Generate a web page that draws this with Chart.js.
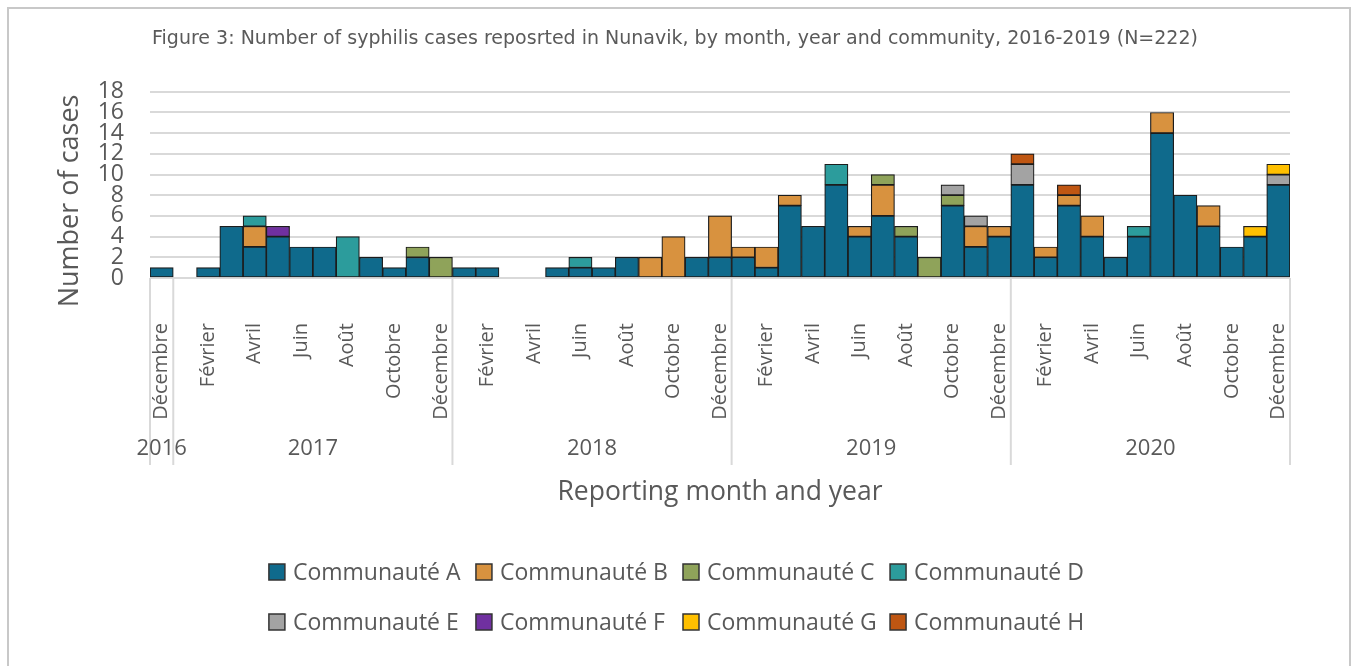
<!DOCTYPE html>
<html>
<head>
<meta charset="utf-8">
<script src="https://cdn.jsdelivr.net/npm/chart.js@4.4.0/dist/chart.umd.min.js"></script>
<style>
  html, body { margin: 0; padding: 0; background: #fff; }
  #frame { position: absolute; left: 7px; top: 7px; width: 1340px; height: 720px; border: 2px solid #c8c8c8; border-bottom: none; }
  #wrap { position: absolute; left: 0; top: 0; width: 1353px; height: 666px; }
</style>
</head>
<body>
<div id="frame"></div>
<div id="wrap"><canvas id="chart"></canvas></div>
<script>
// ===============================
// DATA (one entry per reporting month, Dec 2016 -> Dec 2020)
// ===============================
const monthNames = [
  "Décembre",
  "Janvier", "Février", "Mars", "Avril", "Mai", "Juin", "Juillet", "Août", "Septembre", "Octobre", "Novembre", "Décembre",
  "Janvier", "Février", "Mars", "Avril", "Mai", "Juin", "Juillet", "Août", "Septembre", "Octobre", "Novembre", "Décembre",
  "Janvier", "Février", "Mars", "Avril", "Mai", "Juin", "Juillet", "Août", "Septembre", "Octobre", "Novembre", "Décembre",
  "Janvier", "Février", "Mars", "Avril", "Mai", "Juin", "Juillet", "Août", "Septembre", "Octobre", "Novembre", "Décembre"
];
const monthYears = [
  2016,
  2017, 2017, 2017, 2017, 2017, 2017, 2017, 2017, 2017, 2017, 2017, 2017,
  2018, 2018, 2018, 2018, 2018, 2018, 2018, 2018, 2018, 2018, 2018, 2018,
  2019, 2019, 2019, 2019, 2019, 2019, 2019, 2019, 2019, 2019, 2019, 2019,
  2020, 2020, 2020, 2020, 2020, 2020, 2020, 2020, 2020, 2020, 2020, 2020
];

const casesA = [1, 0, 1, 5, 3, 4, 3, 3, 0, 2, 1, 2, 0, 1, 1, 0, 0, 1, 1, 1, 2, 0, 0, 2, 2, 2, 1, 7, 5, 9, 4, 6, 4, 0, 7, 3, 4, 9, 2, 7, 4, 2, 4, 14, 8, 5, 3, 4, 9];
const casesB = [0, 0, 0, 0, 2, 0, 0, 0, 0, 0, 0, 0, 0, 0, 0, 0, 0, 0, 0, 0, 0, 2, 4, 0, 4, 1, 2, 1, 0, 0, 1, 3, 0, 0, 0, 2, 1, 0, 1, 1, 2, 0, 0, 2, 0, 2, 0, 0, 0];
const casesC = [0, 0, 0, 0, 0, 0, 0, 0, 0, 0, 0, 1, 2, 0, 0, 0, 0, 0, 0, 0, 0, 0, 0, 0, 0, 0, 0, 0, 0, 0, 0, 1, 1, 2, 1, 0, 0, 0, 0, 0, 0, 0, 0, 0, 0, 0, 0, 0, 0];
const casesD = [0, 0, 0, 0, 1, 0, 0, 0, 4, 0, 0, 0, 0, 0, 0, 0, 0, 0, 1, 0, 0, 0, 0, 0, 0, 0, 0, 0, 0, 2, 0, 0, 0, 0, 0, 0, 0, 0, 0, 0, 0, 0, 1, 0, 0, 0, 0, 0, 0];
const casesE = [0, 0, 0, 0, 0, 0, 0, 0, 0, 0, 0, 0, 0, 0, 0, 0, 0, 0, 0, 0, 0, 0, 0, 0, 0, 0, 0, 0, 0, 0, 0, 0, 0, 0, 1, 1, 0, 2, 0, 0, 0, 0, 0, 0, 0, 0, 0, 0, 1];
const casesF = [0, 0, 0, 0, 0, 1, 0, 0, 0, 0, 0, 0, 0, 0, 0, 0, 0, 0, 0, 0, 0, 0, 0, 0, 0, 0, 0, 0, 0, 0, 0, 0, 0, 0, 0, 0, 0, 0, 0, 0, 0, 0, 0, 0, 0, 0, 0, 0, 0];
const casesG = [0, 0, 0, 0, 0, 0, 0, 0, 0, 0, 0, 0, 0, 0, 0, 0, 0, 0, 0, 0, 0, 0, 0, 0, 0, 0, 0, 0, 0, 0, 0, 0, 0, 0, 0, 0, 0, 0, 0, 0, 0, 0, 0, 0, 0, 0, 0, 1, 1];
const casesH = [0, 0, 0, 0, 0, 0, 0, 0, 0, 0, 0, 0, 0, 0, 0, 0, 0, 0, 0, 0, 0, 0, 0, 0, 0, 0, 0, 0, 0, 0, 0, 0, 0, 0, 0, 0, 0, 1, 0, 1, 0, 0, 0, 0, 0, 0, 0, 0, 0];

const communityNames = [
  "Communauté A", "Communauté B", "Communauté C", "Communauté D",
  "Communauté E", "Communauté F", "Communauté G", "Communauté H"
];
const communityCases = [casesA, casesB, casesC, casesD, casesE, casesF, casesG, casesH];
const yTicks = [0, 2, 4, 6, 8, 10, 12, 14, 16, 18];

// ===============================
// STYLE
// ===============================
const colors = ["#0f6a8c", "#d8923f", "#8fa35a", "#2c9c9c", "#a3a3a3", "#7030a0", "#ffc000", "#bf5612"];
const TEXT = "#595959";
const GRID = "#d9d9d9";
const FONT = "'Open Sans', sans-serif";

// ===============================
// YEAR ROW UNDER THE MONTH LABELS + Y TITLE
// ===============================
const yearAxis = {
  id: "yearAxis",
  afterDraw(chart) {
    const { ctx, chartArea } = chart;
    const x = chart.scales.x;
    const step = x.getPixelForValue(1) - x.getPixelForValue(0);

    // consecutive months of the same year form one group
    const groups = [];
    monthYears.forEach((yr, i) => {
      const g = groups[groups.length - 1];
      if (g && g.year === yr) g.last = i;
      else groups.push({ year: yr, first: i, last: i });
    });

    ctx.save();
    ctx.strokeStyle = GRID;
    ctx.lineWidth = 2;
    const edges = [x.getPixelForValue(0) - step / 2];
    groups.forEach(g => edges.push(x.getPixelForValue(g.last) + step / 2));
    edges.forEach(px => {
      ctx.beginPath();
      ctx.moveTo(px, chartArea.bottom);
      ctx.lineTo(px, chartArea.bottom + 187);
      ctx.stroke();
    });

    ctx.fillStyle = TEXT;
    ctx.font = "22px " + FONT;
    ctx.textAlign = "center";
    ctx.textBaseline = "middle";
    groups.forEach(g => {
      const cx = (x.getPixelForValue(g.first) + x.getPixelForValue(g.last)) / 2;
      ctx.fillText(String(g.year), cx, chartArea.bottom + 171);
    });

    // y axis title, sits a little below the plot's middle
    ctx.font = "27px " + FONT;
    ctx.translate(70, (chartArea.top + chartArea.bottom) / 2 + 16);
    ctx.rotate(-Math.PI / 2);
    ctx.fillText("Number of cases", 0, 0);
    ctx.restore();
  }
};

// ===============================
// LEGEND (two rows, equal columns)
// ===============================
const gridLegend = {
  id: "gridLegend",
  afterDraw(chart) {
    const { ctx } = chart;
    const cols = 4, box = 16, gap = 8, spacing = 13;
    ctx.save();
    ctx.font = "23px " + FONT;
    const widest = Math.max(...chart.data.datasets.map(d => ctx.measureText(d.label).width));
    const colW = box + gap + widest + spacing;
    const startX = (chart.width - colW * cols + spacing) / 2;
    ctx.textBaseline = "middle";
    chart.data.datasets.forEach((d, i) => {
      const cx = startX + (i % cols) * colW;
      const cy = 572 + Math.floor(i / cols) * 50;
      ctx.fillStyle = d.backgroundColor;
      ctx.fillRect(cx, cy - box / 2, box, box);
      ctx.strokeStyle = "#333";
      ctx.lineWidth = 1.5;
      ctx.strokeRect(cx, cy - box / 2, box, box);
      ctx.fillStyle = TEXT;
      ctx.fillText(d.label, cx + box + gap, cy + 1);
    });
    ctx.restore();
  }
};

// ===============================
// CHART
// ===============================
new Chart(document.getElementById("chart"), {
  type: "bar",
  data: {
    labels: monthNames,
    datasets: communityNames.map((name, i) => ({
      label: name,
      data: communityCases[i].map(v => v || null),
      backgroundColor: colors[i],
      borderColor: "#1c1c1c",
      borderWidth: 1.2,
      borderSkipped: false,
      barPercentage: 1,
      categoryPercentage: 1
    }))
  },
  options: {
    responsive: true,
    maintainAspectRatio: false,
    animation: false,
    layout: { padding: { left: 60, right: 63, top: 0, bottom: 148 } },
    plugins: {
      legend: { display: false },
      tooltip: { enabled: false },
      title: {
        display: true,
        text: "Figure 3: Number of syphilis cases reposrted in Nunavik, by month, year and community, 2016-2019 (N=222)",
        color: "#5a5a5a",
        font: { family: "'DejaVu Sans', sans-serif", size: 19, weight: "normal" },
        padding: { top: 28, bottom: 41 }
      }
    },
    scales: {
      x: {
        stacked: true,
        grid: { display: false },
        border: { display: false },
        ticks: {
          autoSkip: false,
          minRotation: 90,
          maxRotation: 90,
          padding: 37,
          color: TEXT,
          font: { family: FONT, size: 20 },
          callback: (v, i) => (i % 2 === 0 ? monthNames[i] : "")
        },
        title: {
          display: true,
          text: "Reporting month and year",
          color: TEXT,
          font: { family: FONT, size: 26.5 },
          padding: { top: 0, bottom: 10 }
        },
        afterFit: s => { s.height = 240; }
      },
      y: {
        stacked: true,
        min: 0,
        max: 18,
        grid: { color: GRID, lineWidth: 2, drawTicks: false },
        border: { display: false },
        ticks: { autoSkip: false, padding: 26, color: TEXT, font: { family: FONT, size: 23 } },
        afterBuildTicks: s => { s.ticks = yTicks.map(v => ({ value: v })); },
        afterFit: s => { s.width = 90; }
      }
    }
  },
  plugins: [yearAxis, gridLegend]
});
</script>
</body>
</html>
